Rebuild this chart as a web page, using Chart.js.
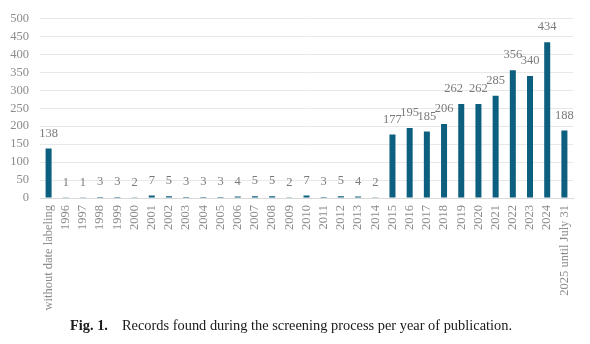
<!DOCTYPE html>
<html>
<head>
<meta charset="utf-8">
<script src="https://cdn.jsdelivr.net/npm/chart.js@4"></script>
<style>
  html, body { margin: 0; padding: 0; background: #fff; }
  #wrap { position: relative; width: 590px; height: 344px; }
  #chart { position: absolute; left: 0; top: 0; }
  #caption {
    position: absolute; left: 70px; top: 317px; white-space: nowrap;
    font-family: "Liberation Serif", "DejaVu Serif", serif; font-size: 14.4px; color: #1a1a1a;
  }
  #caption b { margin-right: 14px; }
</style>
</head>
<body>
<div id="wrap">
  <canvas id="chart" width="590" height="320"></canvas>
  <div id="caption"><b>Fig. 1.</b>Records found during the screening process per year of publication.</div>
</div>
<script>
// Publication years (plus undated records and the partial current year)
const categories = [
  "without date labeling",
  "1996", "1997", "1998", "1999", "2000", "2001", "2002", "2003", "2004", "2005",
  "2006", "2007", "2008", "2009", "2010", "2011", "2012", "2013", "2014",
  "2015", "2016", "2017", "2018", "2019", "2020", "2021", "2022", "2023", "2024",
  "2025 until July 31"
];

// Number of records found per category
const records = [
  138,
  1, 1, 3, 3, 2, 7, 5, 3, 3, 3,
  4, 5, 5, 2, 7, 3, 5, 4, 2,
  177, 195, 185, 206, 262, 262, 285, 356, 340, 434,
  188
];

// Value axis ticks
const yTicks = [0, 50, 100, 150, 200, 250, 300, 350, 400, 450, 500];

const serif = '"Liberation Serif", "DejaVu Serif", serif';
const tickGray = '#8c8c8c';

// Draws the count above each bar; when two neighbouring labels sit at the
// same height and would touch, the left one is nudged aside.
const valueLabels = {
  id: 'valueLabels',
  afterDatasetsDraw(chart) {
    const ctx = chart.ctx;
    const meta = chart.getDatasetMeta(0);
    ctx.save();
    ctx.font = '12.5px ' + serif;
    ctx.fillStyle = '#7a7a7a';
    ctx.textAlign = 'center';
    ctx.textBaseline = 'middle';
    const items = meta.data.map((bar, i) => {
      const text = String(records[i]);
      return { text, x: bar.x, y: bar.y - 15, w: ctx.measureText(text).width };
    });
    for (let i = items.length - 2; i >= 0; i--) {
      const a = items[i], b = items[i + 1];
      if (Math.abs(a.y - b.y) < 3) {
        const need = (a.w + b.w) / 2 + 6;
        if (b.x - a.x < need) a.x = b.x - need;
      }
    }
    items.forEach(it => ctx.fillText(it.text, it.x, it.y));
    ctx.restore();
  }
};

new Chart(document.getElementById('chart'), {
  type: 'bar',
  data: {
    labels: categories,
    datasets: [{
      data: records,
      backgroundColor: '#0d5f80',
      borderWidth: 0,
      categoryPercentage: 1,
      barPercentage: 0.35
    }]
  },
  options: {
    responsive: false,
    animation: false,
    layout: { padding: { left: 0, right: 17, top: 15, bottom: 0 } },
    plugins: {
      legend: { display: false },
      tooltip: { enabled: false }
    },
    scales: {
      x: {
        grid: { display: false, drawTicks: false },
        border: { display: true, color: '#d9d9d9', width: 1 },
        ticks: {
          autoSkip: false,
          maxRotation: 90,
          minRotation: 90,
          padding: 7,
          color: tickGray,
          font: { family: serif, size: 12.5 }
        },
        afterFit(scale) { scale.height = 122; }
      },
      y: {
        min: 0,
        max: 500,
        afterBuildTicks(scale) { scale.ticks = yTicks.map(v => ({ value: v })); },
        grid: { color: '#e8e8e8', lineWidth: 1, drawTicks: false },
        border: { display: false },
        ticks: {
          autoSkip: false,
          stepSize: 50,
          padding: 11,
          color: tickGray,
          font: { family: serif, size: 12.5 }
        },
        afterFit(scale) { scale.width = 40; }
      }
    }
  },
  plugins: [valueLabels]
});
</script>
</body>
</html>
